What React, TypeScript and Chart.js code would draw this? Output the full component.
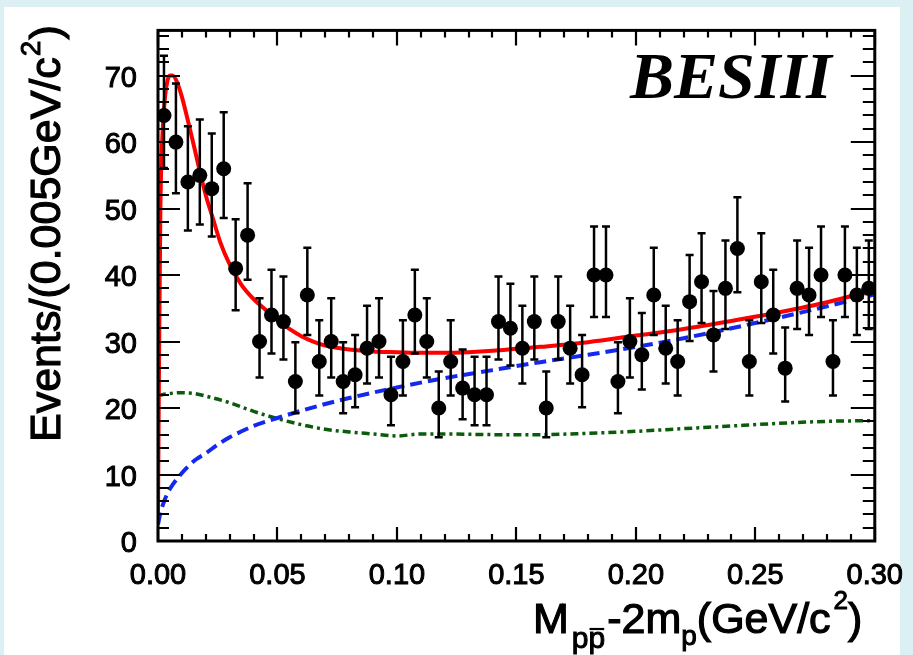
import { useEffect, useRef } from "react";
import { Chart, registerables } from "chart.js";

Chart.register(...registerables);

// ---------------- data ----------------
const binWidth = 0.005;
const counts = [
  64, 60, 54, 55, 53, 56, 41, 46, 30, 34,
  33, 24, 37, 27, 30, 24, 25, 29, 30, 22,
  27, 34, 30, 20, 27, 23, 22, 22, 33, 32,
  29, 33, 20, 33, 29, 25, 40, 40, 24, 30,
  28, 37, 29, 27, 36, 39, 31, 38, 44, 27,
  39, 34, 26, 38, 37, 40, 27, 40, 37, 38,
];
const errLow = [
  7.9, 7.7, 7.3, 7.4, 7.2, 7.4, 6.3, 6.7, 5.4, 5.8,
  5.7, 4.8, 6.0, 5.1, 5.4, 4.8, 4.9, 5.3, 5.4, 4.6,
  5.1, 5.8, 5.4, 4.4, 5.1, 4.7, 4.6, 4.6, 5.7, 5.6,
  5.3, 5.7, 4.4, 5.7, 5.3, 4.9, 6.3, 6.3, 4.8, 5.4,
  5.2, 6.0, 5.3, 5.1, 5.9, 6.2, 5.5, 6.1, 6.6, 5.1,
  6.2, 5.8, 5.0, 6.1, 6.0, 6.3, 5.1, 6.3, 6.0, 6.1,
];
const errHigh = [
  9.0, 8.8, 8.4, 8.4, 8.3, 8.5, 7.4, 7.8, 6.5, 6.8,
  6.8, 5.9, 7.1, 6.2, 6.5, 5.9, 6.0, 6.4, 6.5, 5.7,
  6.2, 6.8, 6.5, 5.5, 6.2, 5.8, 5.7, 5.7, 6.8, 6.7,
  6.4, 6.8, 5.5, 6.8, 6.4, 6.0, 7.3, 7.3, 5.9, 6.5,
  6.3, 7.1, 6.4, 6.2, 7.0, 7.3, 6.6, 7.2, 7.7, 6.2,
  7.3, 6.8, 6.1, 7.2, 7.1, 7.3, 6.2, 7.3, 7.1, 7.2,
];

// total fit (red solid)
const totalX = [
  0, 0.0005, 0.001, 0.002, 0.003, 0.004, 0.005, 0.006, 0.008, 0.010,
  0.012, 0.015, 0.0175, 0.020, 0.023, 0.026, 0.030, 0.035, 0.040, 0.045,
  0.050, 0.055, 0.060, 0.065, 0.070, 0.080, 0.090, 0.100, 0.110, 0.120,
  0.130, 0.140, 0.150, 0.160, 0.180, 0.200, 0.220, 0.240, 0.260, 0.280, 0.300,
];
const totalY = [
  4, 30, 50, 62, 67, 69.3, 70, 70, 69, 66.8,
  64, 59.5, 55.6, 52, 48.5, 45, 41.6, 38.5, 36.4, 34.8,
  33.2, 31.9, 30.8, 30, 29.4, 28.8, 28.5, 28.4, 28.3, 28.3,
  28.4, 28.6, 28.9, 29.2, 29.9, 30.9, 31.9, 33.1, 34.4, 35.9, 37.8,
];

// background (blue dashed)
const bkgX = [
  0, 0.001, 0.002, 0.004, 0.006, 0.009, 0.012, 0.016, 0.020, 0.025,
  0.030, 0.035, 0.040, 0.050, 0.060, 0.070, 0.080, 0.100, 0.120, 0.140,
  0.160, 0.180, 0.200, 0.220, 0.240, 0.260, 0.280, 0.300,
];
const bkgY = [
  2.5, 4.2, 5.4, 7.2, 8.4, 9.8, 11, 12.3, 13.2, 14.5,
  15.6, 16.5, 17.3, 18.5, 19.6, 20.6, 21.5, 23.1, 24.5, 25.7,
  26.9, 28.0, 29.2, 30.5, 32.0, 33.6, 35.3, 37.1,
];

// other component (green dash-dot)
const otherX = [
  0, 0.005, 0.010, 0.015, 0.020, 0.030, 0.040, 0.050, 0.060, 0.070,
  0.080, 0.090, 0.100, 0.110, 0.120, 0.140, 0.160, 0.180, 0.200, 0.220,
  0.240, 0.260, 0.280, 0.300,
];
const otherY = [
  21.9, 22.2, 22.3, 22.2, 21.8, 20.8, 19.5, 18.4, 17.5, 16.8,
  16.4, 16.1, 15.8, 16.1, 16.1, 16.0, 16.0, 16.2, 16.5, 16.9,
  17.3, 17.7, 18.0, 18.1,
];

const xMin = 0;
const xMax = 0.3;
const xStep = 0.05;
const xMinorStep = 0.01;
const yMin = 0;
const yMax = 76.8;
const yStep = 10;
const yMinorStep = 2;

const yTitle = "Events/(0.005GeV/c";
const experiment = "BESIII";

const FONT = "'Liberation Sans', Arial, sans-serif";

function thickText(ctx: CanvasRenderingContext2D, s: string, x: number, y: number, sw: number) {
  ctx.lineWidth = sw;
  ctx.strokeText(s, x, y);
  ctx.fillText(s, x, y);
}

// ---------------- plugins ----------------
const decor = {
  id: "decor",
  beforeDraw(chart: any) {
    const { ctx, width, height } = chart;
    ctx.save();
    ctx.fillStyle = "#dcf0f4";
    ctx.fillRect(0, 0, width, height);
    ctx.fillStyle = "#ffffff";
    ctx.fillRect(4, 7, 896, height - 7);
    ctx.restore();
  },
  afterDatasetsDraw(chart: any) {
    const { ctx } = chart;
    const xs = chart.scales.x;
    const ys = chart.scales.y;
    ctx.save();
    ctx.strokeStyle = "#000";
    ctx.lineWidth = 2.5;
    counts.forEach((n, i) => {
      const cx = (i + 0.5) * binWidth;
      const px = xs.getPixelForValue(cx);
      const yt = ys.getPixelForValue(n + errHigh[i]);
      const yb = ys.getPixelForValue(n - errLow[i]);
      ctx.beginPath();
      ctx.moveTo(px, yt);
      ctx.lineTo(px, yb);
      ctx.moveTo(px - 4, yt);
      ctx.lineTo(px + 4, yt);
      ctx.moveTo(px - 4, yb);
      ctx.lineTo(px + 4, yb);
      ctx.stroke();
    });
    ctx.restore();
  },
  afterDraw(chart: any) {
    const { ctx, chartArea } = chart;
    const { left, right, top, bottom } = chartArea;
    const xs = chart.scales.x;
    const ys = chart.scales.y;
    ctx.save();
    // ticks
    ctx.strokeStyle = "#000";
    ctx.lineWidth = 2.2;
    ctx.beginPath();
    const nY = Math.round((yMax - yMin) / yMinorStep);
    for (let k = 0; k <= nY; k++) {
      const v = yMin + k * yMinorStep;
      if (v > yMax) break;
      const py = Math.round(ys.getPixelForValue(v));
      const major = k % Math.round(yStep / yMinorStep) === 0;
      ctx.moveTo(left, py);
      ctx.lineTo(left + (major ? 22 : 11), py);
      ctx.moveTo(right, py);
      ctx.lineTo(right - (major ? 24 : 12), py);
    }
    const nX = Math.round((xMax - xMin) / xMinorStep);
    for (let k = 0; k <= nX; k++) {
      const v = xMin + k * xMinorStep;
      const px = Math.round(xs.getPixelForValue(v));
      const major = k % Math.round(xStep / xMinorStep) === 0;
      ctx.moveTo(px, bottom);
      ctx.lineTo(px, bottom - (major ? 14 : 7));
      ctx.moveTo(px, top);
      ctx.lineTo(px, top + (major ? 15 : 7));
    }
    ctx.stroke();
    // frame
    ctx.lineWidth = 3;
    ctx.strokeRect(left, top, right - left, bottom - top);

    // BESIII label
    ctx.fillStyle = "#000";
    ctx.strokeStyle = "#000";
    ctx.font = "bold italic 66px 'Liberation Serif', 'Times New Roman', serif";
    ctx.textBaseline = "alphabetic";
    ctx.textAlign = "left";
    ctx.fillText(experiment, 630, 98);

    // y title (rotated)
    ctx.save();
    ctx.translate(60, 442);
    ctx.rotate(-Math.PI / 2);
    ctx.font = `43px ${FONT}`;
    thickText(ctx, yTitle, 0, 0, 1.2);
    let w = ctx.measureText(yTitle).width;
    ctx.font = `28px ${FONT}`;
    thickText(ctx, "2", w + 1, -20, 1);
    w += 1 + ctx.measureText("2").width + 1;
    ctx.font = `43px ${FONT}`;
    thickText(ctx, ")", w, 0, 1.2);
    ctx.restore();

    // x title
    let x = 533;
    const base = 633;
    ctx.font = `43px ${FONT}`;
    thickText(ctx, "M", x, base, 1.2);
    x += ctx.measureText("M").width + 3;
    ctx.font = `30px ${FONT}`;
    thickText(ctx, "p", x, base + 15, 1);
    const pw = ctx.measureText("p").width;
    thickText(ctx, "p", x + pw, base + 15, 1);
    ctx.lineWidth = 2.2;
    ctx.beginPath();
    ctx.moveTo(x + pw + 1, base - 4);
    ctx.lineTo(x + 2 * pw - 1, base - 4);
    ctx.stroke();
    x += 2 * pw + 2;
    ctx.font = `43px ${FONT}`;
    thickText(ctx, "-2m", x, base, 1.2);
    x += ctx.measureText("-2m").width;
    ctx.font = `28px ${FONT}`;
    thickText(ctx, "p", x, base + 12, 1);
    x += ctx.measureText("p").width;
    ctx.font = `43px ${FONT}`;
    thickText(ctx, "(GeV/c", x, base, 1.2);
    x += ctx.measureText("(GeV/c").width + 3;
    ctx.font = `26px ${FONT}`;
    thickText(ctx, "2", x, base - 24, 1);
    x += ctx.measureText("2").width;
    ctx.font = `43px ${FONT}`;
    thickText(ctx, ")", x, base, 1.2);

    ctx.restore();
  },
};

export default function App() {
  const ref = useRef<HTMLCanvasElement | null>(null);

  useEffect(() => {
    if (!ref.current) return;
    const pts = counts.map((n, i) => ({ x: (i + 0.5) * binWidth, y: n }));
    const chart = new Chart(ref.current, {
      type: "scatter",
      data: {
        datasets: [
          {
            type: "scatter",
            label: "data",
            data: pts,
            pointRadius: 7.5,
            pointHoverRadius: 7.5,
            backgroundColor: "#000",
            borderWidth: 0,
            order: 0,
          } as any,
          {
            type: "line",
            label: "total",
            data: totalX.map((x, i) => ({ x, y: totalY[i] })),
            borderColor: "#ff0000",
            borderWidth: 4,
            pointRadius: 0,
            cubicInterpolationMode: "monotone",
            fill: false,
            order: 1,
          } as any,
          {
            type: "line",
            label: "background",
            data: bkgX.map((x, i) => ({ x, y: bkgY[i] })),
            borderColor: "#1428ee",
            borderWidth: 4,
            borderDash: [12, 6],
            pointRadius: 0,
            cubicInterpolationMode: "monotone",
            fill: false,
            order: 2,
          } as any,
          {
            type: "line",
            label: "other",
            data: otherX.map((x, i) => ({ x, y: otherY[i] })),
            borderColor: "#0a5c0a",
            borderWidth: 3.5,
            borderDash: [8, 4, 3, 4],
            pointRadius: 0,
            cubicInterpolationMode: "monotone",
            fill: false,
            order: 3,
          } as any,
        ],
      },
      options: {
        animation: false,
        responsive: false,
        devicePixelRatio: 1,
        layout: { padding: { left: 0, top: 24, right: 36, bottom: 0 } },
        plugins: {
          legend: { display: false },
          tooltip: { enabled: false },
        },
        events: [],
        scales: {
          x: {
            type: "linear",
            min: xMin,
            max: xMax,
            grid: { display: false },
            border: { display: false },
            ticks: {
              stepSize: xStep,
              autoSkip: false,
              maxRotation: 0,
              padding: 10,
              color: "#000",
              textStrokeColor: "#000",
              textStrokeWidth: 1,
              font: { family: FONT, size: 29 },
              callback: (v: any) => Number(v).toFixed(2),
            },
            afterFit: (s: any) => {
              s.height = 114;
            },
          },
          y: {
            type: "linear",
            min: yMin,
            max: yMax,
            grid: { display: false },
            border: { display: false },
            afterBuildTicks: (s: any) => {
              s.ticks = s.ticks.filter(
                (t: any) => Math.abs(t.value / yStep - Math.round(t.value / yStep)) < 1e-6
              );
            },
            ticks: {
              stepSize: yStep,
              autoSkip: false,
              padding: 13,
              labelOffset: 3,
              color: "#000",
              textStrokeColor: "#000",
              textStrokeWidth: 1,
              font: { family: FONT, size: 29 },
              callback: (v: any) => String(Math.round(Number(v))),
            },
            afterFit: (s: any) => {
              s.width = 158;
            },
          },
        },
      } as any,
      plugins: [decor],
    });
    return () => chart.destroy();
  }, []);

  return (
    <div style={{ position: "fixed", left: 0, top: 0, width: 913, height: 655 }}>
      <canvas ref={ref} width={913} height={655} style={{ display: "block" }} />
    </div>
  );
}
